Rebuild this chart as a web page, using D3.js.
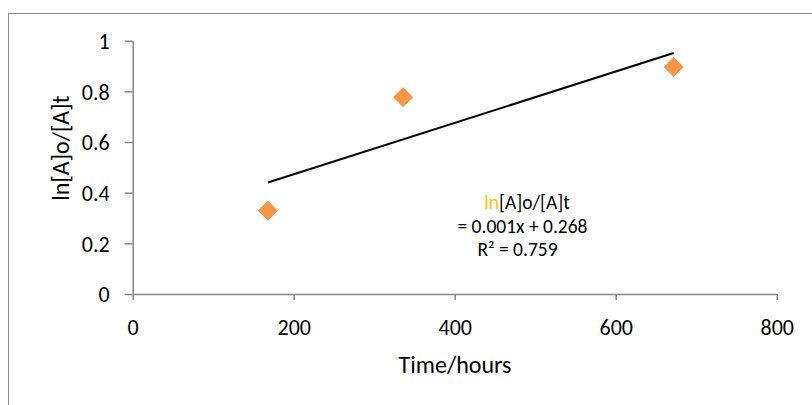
<!DOCTYPE html>
<html><head><meta charset="utf-8">
<script src="https://cdn.jsdelivr.net/npm/d3@7"></script>
<style>body{margin:0;background:#fff}svg{display:block;font-family:Carlito,Lato,"Liberation Sans",sans-serif}</style>
</head><body><svg id="c" width="812" height="405"></svg>
<script>
const timeHours = [168, 336, 672];
const lnRatio = [0.329, 0.777, 0.896];
const xTicks = [0, 200, 400, 600, 800];
const yTicks = [0, 0.2, 0.4, 0.6, 0.8, 1];
const xTitle = "Time/hours";
const yTitle = "ln[A]o/[A]t";
const eqLines = ["= 0.001x + 0.268", "R² = 0.759"];

const svg = d3.select("#c");
svg.append("rect").attr("x",8.5).attr("y",13.5).attr("width",900).attr("height",500)
  .attr("fill","none").attr("stroke","#898989").attr("stroke-width",1);

const x = d3.scaleLinear().domain([0,800]).range([132.7,776.7]);
const y = d3.scaleLinear().domain([0,1]).range([294,40.7]);
const grey = "#868686";

const xa = svg.append("g").attr("transform","translate(0,294)")
  .call(d3.axisBottom(x).tickValues(xTicks).tickSize(6).tickSizeOuter(0).tickFormat(d3.format("d")));
const ya = svg.append("g").attr("transform","translate(132.7,0)")
  .call(d3.axisLeft(y).tickValues(yTicks).tickSize(8).tickSizeOuter(0).tickFormat(d=>String(d)));
[xa,ya].forEach(a=>{
  a.select(".domain").attr("stroke",grey).attr("stroke-width",1.5);
  a.selectAll(".tick line").attr("stroke",grey).attr("stroke-width",1.5);
  a.selectAll("text").attr("fill","#000").style("font-size","22px").style("font-family","Carlito,Lato,sans-serif");
});
xa.selectAll("text").attr("y",0).attr("dy",0).attr("transform","translate(0,41)");
ya.selectAll("text").attr("x",-23).attr("dy","0.36em");

// trendline (least squares)
const mx = d3.mean(timeHours), my = d3.mean(lnRatio);
const slope = d3.sum(timeHours.map((t,i)=>(t-mx)*(lnRatio[i]-my)))/d3.sum(timeHours.map(t=>(t-mx)**2));
const icpt = my - slope*mx;
const ext = d3.extent(timeHours);
svg.append("line").attr("x1",x(ext[0])).attr("y1",y(slope*ext[0]+icpt))
  .attr("x2",x(ext[1])).attr("y2",y(slope*ext[1]+icpt))
  .attr("stroke","#000").attr("stroke-width",2);

svg.append("g").selectAll("path").data(timeHours.map((t,i)=>[t,lnRatio[i]])).join("path")
  .attr("transform",d=>`translate(${x(d[0])},${y(d[1])})`)
  .attr("d","M0,-10L10,0L0,10L-10,0Z").attr("fill","#F79646");

// annotation
const ann = svg.append("text").attr("x",527).attr("y",209).attr("text-anchor","middle").style("font-size","19.5px");
ann.append("tspan").attr("fill","#FFC000").text(yTitle.slice(0,2));
ann.append("tspan").attr("fill","#000").text(yTitle.slice(2));
eqLines.forEach((t,i)=>svg.append("text").attr("x",[522.5,517.5][i]).attr("y",[233,256][i])
  .attr("text-anchor","middle").style("font-size","19.5px").attr("fill","#000").text(t));

svg.append("text").attr("x",455).attr("y",373).attr("text-anchor","middle").style("font-size","24px").text(xTitle);
svg.append("text").attr("transform","translate(69,148) rotate(-90)").attr("text-anchor","middle").style("font-size","24px").text(yTitle);
</script></body></html>
